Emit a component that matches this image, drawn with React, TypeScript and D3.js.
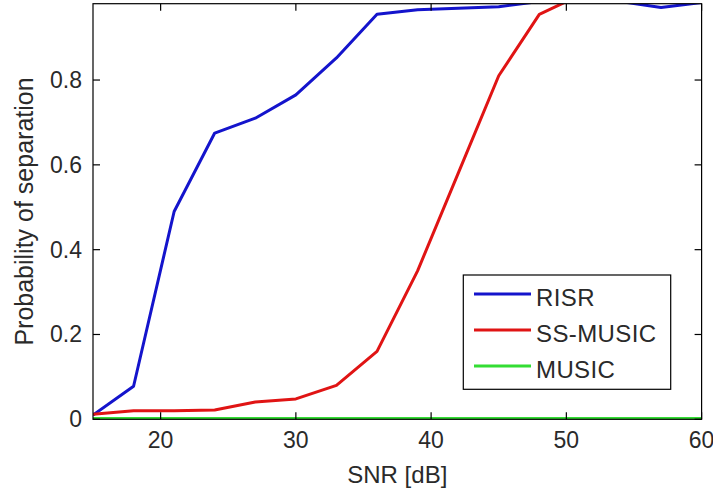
import React from "react";
import * as d3 from "d3";

const snr = [15, 18, 21, 24, 27, 30, 33, 36, 39, 42, 45, 48, 51, 54, 57, 60];
const risr = [0.01, 0.078, 0.49, 0.675, 0.71, 0.765, 0.852, 0.955, 0.966, 0.969, 0.973, 0.985, 1.0, 0.985, 0.971, 0.983];
const ssMusic = [0.012, 0.02, 0.02, 0.022, 0.041, 0.048, 0.08, 0.16, 0.35, 0.58, 0.81, 0.955, 1.0, 1.0, 1.0, 1.0];
const music = [0, 0, 0, 0, 0, 0, 0, 0, 0, 0, 0, 0, 0, 0, 0, 0];

const xTicks = [20, 30, 40, 50, 60];
const yTicks = [0, 0.2, 0.4, 0.6, 0.8];
const seriesNames = ["RISR", "SS-MUSIC", "MUSIC"];
const seriesColors = ["#1414cc", "#e01414", "#33dd33"];
const seriesWidths = [3, 3, 4.5];

const W = 713;
const H = 492;
const L = 93;
const R = 701.6;
const T = 3.7;
const B = 419.3;

export default function App() {
  const x = d3.scaleLinear().domain([15, 60]).range([L, R]);
  const y = d3.scaleLinear().domain([0, 0.98]).range([B, T]);
  const line = d3
    .line<number>()
    .x((_, i) => x(snr[i]))
    .y((d) => y(d));
  const series = [risr, ssMusic, music];
  const font = "'Liberation Sans', Arial, sans-serif";
  const tickLen = 7;
  const txt = "#2a2a2a";

  return (
    <div style={{ position: "absolute", left: 0, top: 0 }}>
      <svg width={W} height={H} style={{ display: "block", background: "#fff" }}>
        <defs>
          <clipPath id="plotclip">
            <rect x={L} y={T} width={R - L} height={B - T} />
          </clipPath>
        </defs>
        <rect x={0} y={0} width={W} height={H} fill="#fff" />
        <g clipPath="url(#plotclip)">
          {series.map((s, i) => (
            <path
              key={i}
              d={line(s) || ""}
              fill="none"
              stroke={seriesColors[i]}
              strokeWidth={seriesWidths[i]}
              strokeLinejoin="round"
            />
          ))}
        </g>
        <rect x={L} y={T} width={R - L} height={B - T} fill="none" stroke="#000" strokeWidth={1.2} />
        {xTicks.map((t) => (
          <g key={"x" + t}>
            <line x1={x(t)} x2={x(t)} y1={B} y2={B - tickLen} stroke="#000" strokeWidth={1.2} />
            <line x1={x(t)} x2={x(t)} y1={T} y2={T + tickLen} stroke="#000" strokeWidth={1.2} />
            <text x={x(t)} y={448} textAnchor="middle" fontFamily={font} fontSize={23} fill={txt}>
              {t}
            </text>
          </g>
        ))}
        {yTicks.map((t) => (
          <g key={"y" + t}>
            <line x1={L} x2={L + tickLen} y1={y(t)} y2={y(t)} stroke="#000" strokeWidth={1.2} />
            <line x1={R} x2={R - tickLen} y1={y(t)} y2={y(t)} stroke="#000" strokeWidth={1.2} />
            <text x={82} y={y(t) + 8} textAnchor="end" fontFamily={font} fontSize={23} fill={txt}>
              {t === 0 ? "0" : d3.format(".1f")(t)}
            </text>
          </g>
        ))}
        <text x={(L + R) / 2} y={483} textAnchor="middle" fontFamily={font} fontSize={24} fill={txt}>
          SNR [dB]
        </text>
        <text
          transform={`translate(33,${(T + B) / 2}) rotate(-90)`}
          textAnchor="middle"
          fontFamily={font}
          fontSize={25}
          fill={txt}
        >
          Probability of separation
        </text>
        <rect x={463.3} y={275} width={207.4} height={114.3} fill="#fff" stroke="#000" strokeWidth={1.2} />
        {seriesNames.map((n, i) => (
          <g key={n}>
            <line
              x1={474}
              x2={531}
              y1={294 + i * 36}
              y2={294 + i * 36}
              stroke={seriesColors[i]}
              strokeWidth={3}
            />
            <text x={536} y={305.5 + i * 36} fontFamily={font} fontSize={24} fill={txt} letterSpacing={0.4}>
              {n}
            </text>
          </g>
        ))}
      </svg>
    </div>
  );
}
